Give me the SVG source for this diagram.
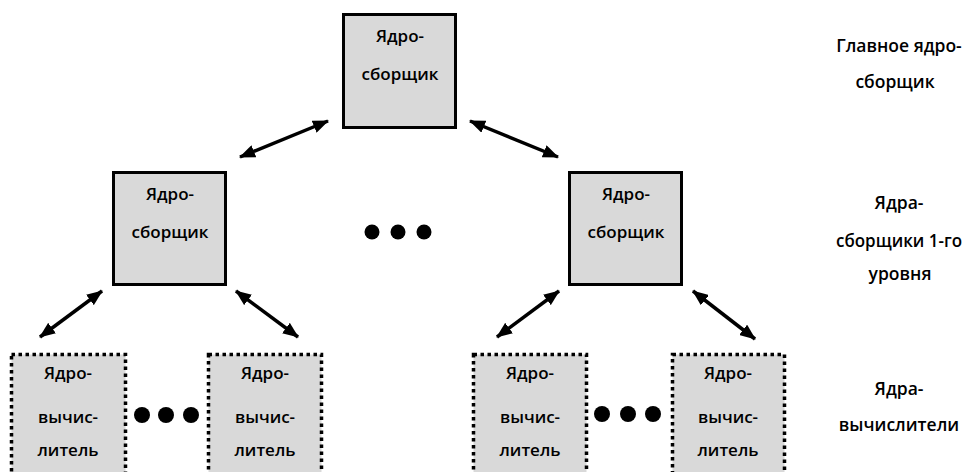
<svg xmlns="http://www.w3.org/2000/svg" width="964" height="472" viewBox="0 0 964 472">
<defs>
<style>
.solid{fill:#d9d9d9;stroke:#000;stroke-width:3}
.dotted{fill:#d9d9d9;stroke:#000;stroke-width:3.5;stroke-dasharray:3.5 3.5}
.t{font-family:"Open Sans","Noto Sans",sans-serif;font-weight:600;font-size:17px;fill:#000;text-anchor:middle}
.lbl{font-family:"Open Sans","Noto Sans",sans-serif;font-weight:600;font-size:17.5px;fill:#000;text-anchor:middle}
.c{stroke:#000;stroke-width:3.5;fill:none;marker-start:url(#ah);marker-end:url(#ah)}
.dot{fill:#000}
</style>
<marker id="ah" viewBox="0 0 16 13" refX="15" refY="6.5" markerWidth="16" markerHeight="13" markerUnits="userSpaceOnUse" orient="auto-start-reverse">
<path d="M0,0 L16,6.5 L0,13 z" fill="#000"/>
</marker>
</defs>
<rect width="964" height="472" fill="#fff"/>
<g id="connectors">
<line class="c" x1="240" y1="157" x2="328" y2="121"/>
<line class="c" x1="470" y1="121" x2="558" y2="157"/>
<line class="c" x1="40" y1="337" x2="102" y2="291"/>
<line class="c" x1="236" y1="291" x2="298" y2="337"/>
<line class="c" x1="497" y1="337" x2="559" y2="291"/>
<line class="c" x1="693" y1="291" x2="755" y2="339"/>
</g>
<g id="root">
<rect class="solid" x="343.5" y="14.5" width="112" height="113"/>
<text class="t" x="400" y="42">Ядро-</text>
<text class="t" x="400" y="80">сборщик</text>
</g>
<g id="mid-left">
<rect class="solid" x="113.5" y="172.5" width="112" height="112"/>
<text class="t" x="170" y="200">Ядро-</text>
<text class="t" x="170" y="238">сборщик</text>
</g>
<g id="mid-right">
<rect class="solid" x="569.5" y="172.5" width="112" height="112"/>
<text class="t" x="626" y="200">Ядро-</text>
<text class="t" x="626" y="238">сборщик</text>
</g>
<g id="ellipsis-mid">
<circle class="dot" cx="372" cy="232" r="7.5"/>
<circle class="dot" cx="398" cy="232" r="7.5"/>
<circle class="dot" cx="424" cy="232" r="7.5"/>
</g>
<g id="leaf-1">
<rect class="dotted" x="11.5" y="354.5" width="114" height="130"/>
<text class="t" x="68" y="379">Ядро-</text>
<text class="t" x="68" y="423">вычис-</text>
<text class="t" x="68" y="456">литель</text>
</g>
<g id="leaf-2">
<rect class="dotted" x="208.5" y="354.5" width="113" height="130"/>
<text class="t" x="265" y="379">Ядро-</text>
<text class="t" x="265" y="423">вычис-</text>
<text class="t" x="265" y="456">литель</text>
</g>
<g id="leaf-3">
<rect class="dotted" x="473.5" y="354.5" width="113" height="130"/>
<text class="t" x="530" y="379">Ядро-</text>
<text class="t" x="530" y="423">вычис-</text>
<text class="t" x="530" y="456">литель</text>
</g>
<g id="leaf-4">
<rect class="dotted" x="672.5" y="354.5" width="112" height="130"/>
<text class="t" x="728" y="379">Ядро-</text>
<text class="t" x="728" y="423">вычис-</text>
<text class="t" x="728" y="456">литель</text>
</g>
<g id="ellipsis-left">
<circle class="dot" cx="142" cy="415" r="8"/>
<circle class="dot" cx="166" cy="415" r="8"/>
<circle class="dot" cx="191" cy="415" r="8"/>
</g>
<g id="ellipsis-right">
<circle class="dot" cx="602" cy="414" r="8"/>
<circle class="dot" cx="628" cy="414" r="8"/>
<circle class="dot" cx="653" cy="414" r="8"/>
</g>
<g id="labels">
<text class="lbl" x="899" y="52">Главное ядро-</text>
<text class="lbl" x="895" y="88">сборщик</text>
<text class="lbl" x="899" y="209">Ядра-</text>
<text class="lbl" x="899" y="247" textLength="126" lengthAdjust="spacingAndGlyphs">сборщики 1-го</text>
<text class="lbl" x="900" y="280">уровня</text>
<text class="lbl" x="899" y="395">Ядра-</text>
<text class="lbl" x="899" y="431">вычислители</text>
</g>
</svg>
